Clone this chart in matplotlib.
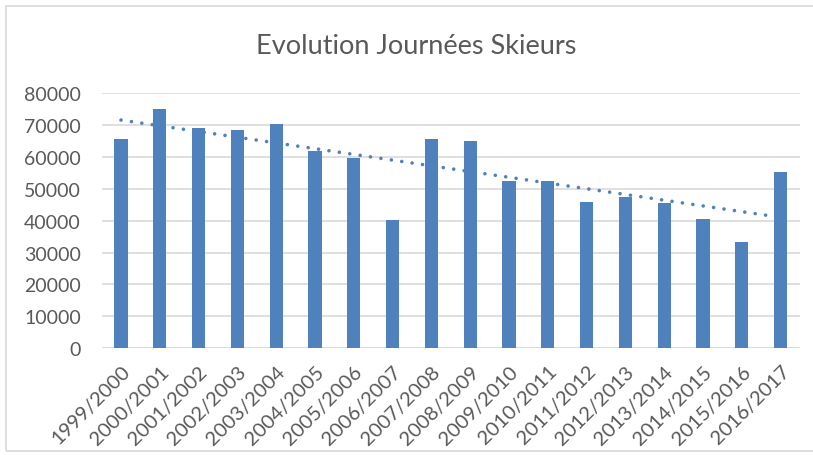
import numpy as np
import matplotlib
matplotlib.use("Agg")
import matplotlib.pyplot as plt
from matplotlib.patches import Rectangle

seasons = ["1999/2000", "2000/2001", "2001/2002", "2002/2003", "2003/2004", "2004/2005",
           "2005/2006", "2006/2007", "2007/2008", "2008/2009", "2009/2010", "2010/2011",
           "2011/2012", "2012/2013", "2013/2014", "2014/2015", "2015/2016", "2016/2017"]
journees = [65500, 75000, 68900, 68500, 70400, 61800, 59500, 40200, 65500,
            64800, 52300, 52300, 45800, 47400, 45500, 40600, 33400, 55300]
yticks = [0, 10000, 20000, 30000, 40000, 50000, 60000, 70000, 80000]

plt.rcParams['font.family'] = ['Lato', 'DejaVu Sans']
fig = plt.figure(figsize=(8.13, 4.56), dpi=100)
ax = fig.add_axes([0.125, 0.234, 0.859, 0.560])

x = np.arange(len(seasons))
bar_color = "#4F81BD"
ax.bar(x, journees, width=0.34, color=bar_color, zorder=3)

coef = np.polyfit(x, journees, 1)
xt = np.array([x[0], x[-1]])
ax.plot(xt, np.polyval(coef, xt), linestyle=(0, (0.01, 2.9)), color=bar_color,
        linewidth=2.6, zorder=4, dash_capstyle='round', solid_capstyle='round')

ax.set_xlim(-0.5, len(seasons) - 0.5)
ax.set_ylim(0, 80000)
ax.set_yticks(yticks)
ax.set_yticklabels([str(v) for v in yticks], fontsize=14, color="#595959")
ax.set_xticks(x)
ax.set_xticklabels(seasons, rotation=45, ha='right', rotation_mode='anchor',
                   fontsize=14.5, color="#595959")
ax.tick_params(axis='y', length=0, pad=15)
ax.tick_params(axis='x', length=0, pad=10)
ax.yaxis.grid(True, color="#D9D9D9", linewidth=1.2, zorder=0)
for s in ax.spines.values():
    s.set_visible(False)
ax.axhline(0, color="#D9D9D9", linewidth=1.2, zorder=2)

fig.text(0.512, 0.899, "Evolution Journées Skieurs", ha='center', va='center',
         fontsize=19.5, color="#595959")

fig.patches.append(Rectangle((0.007, 0.008), 1.2, 0.976, transform=fig.transFigure,
                             fill=False, edgecolor="#D9D9D9", linewidth=1.2))

fig.savefig("out.png", dpi=100)
